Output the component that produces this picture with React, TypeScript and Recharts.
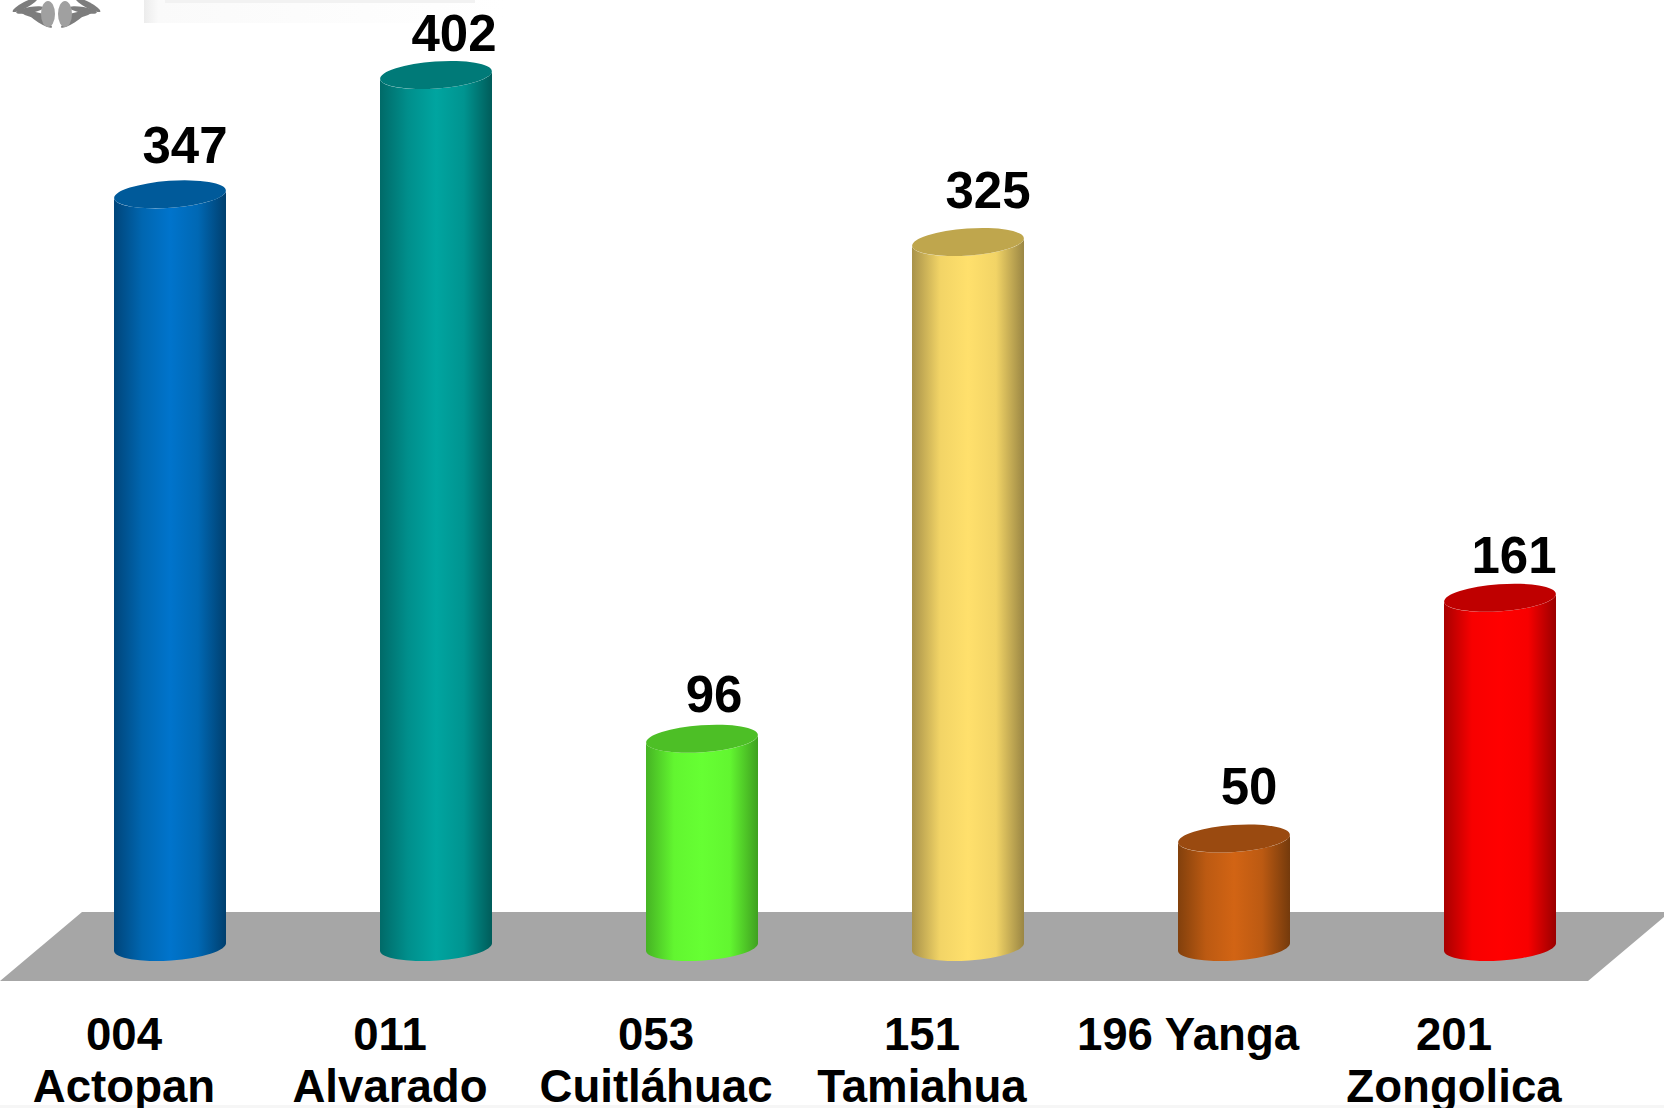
import React from "react";
import { BarChart, Bar, XAxis, YAxis, LabelList, Customized } from "recharts";

const municipios = ["004|Actopan", "011|Alvarado", "053|Cuitláhuac", "151|Tamiahua", "196 Yanga", "201|Zongolica"];
const casos = [347, 402, 96, 325, 50, 161];

const sideColors = [
  ["#00457a", "#0066b0", "#0074cc", "#0068b4", "#003f6e"],
  ["#006a68", "#008f8c", "#00a5a0", "#009490", "#005c5a"],
  ["#46b324", "#62f630", "#66ff33", "#62f630", "#3fa020"],
  ["#a8924a", "#f2d466", "#ffe06c", "#f2d466", "#9a8644"],
  ["#82400c", "#bc5a12", "#d26414", "#bc5a12", "#743a0c"],
  ["#a80000", "#f80000", "#ff0000", "#f80000", "#9a0000"],
];
const capColors = ["#005a9a", "#007a78", "#4dbf26", "#bfa64d", "#9a4a10", "#bf0000"];
const labelNudgeX = [1, 4, -2, 6, 1, 0];
const labelNudgeY = [0, 7, 4, -3, -4, 6];

const FONT = "'Liberation Sans', Arial, sans-serif";
const BAR_SHIFT = 46;
const RX = 56;
const RY = 13.5;
const TILT = 4;

const leafTilts = [-28, -10, 12, 32];

const Backdrop = () => (
  <g>
    <defs>
      <linearGradient id="topBand" x1="0" y1="0" x2="1" y2="0">
        <stop offset="0%" stopColor="#ececec" />
        <stop offset="4%" stopColor="#fafafa" />
        <stop offset="100%" stopColor="#ffffff" />
      </linearGradient>
    </defs>
    <rect x={144} y={0} width={360} height={23} fill="url(#topBand)" />
    <rect x={165} y={0} width={310} height={3} fill="#f2f2f2" />
    <g fill="#7d7d7d">
      {leafTilts.map((a, i) => (
        <g key={a}>
          <ellipse cx={25 + i * 5} cy={5 + i * 5} rx={14} ry={3} transform={`rotate(${a} ${25 + i * 5} ${5 + i * 5})`} />
          <ellipse cx={88 - i * 5} cy={5 + i * 5} rx={14} ry={3} transform={`rotate(${-a} ${88 - i * 5} ${5 + i * 5})`} />
        </g>
      ))}
      <ellipse cx={48} cy={14} rx={7} ry={13} fill="#a0a0a0" />
      <ellipse cx={65} cy={14} rx={7} ry={13} fill="#a0a0a0" />
    </g>
    <polygon points="82,912 1670,912 1588,981 0,981" fill="#a6a6a6" />
    <rect x={0} y={1105} width={1664} height={3} fill="#f6f6f6" />
  </g>
);

const Cylinder = (props: any) => {
  const { x, y, width, height, index } = props;
  const cx = x + width / 2 + BAR_SHIFT;
  const base = y + height;
  const d = `M${cx - RX},${y + TILT} L${cx - RX},${base + TILT} A${RX} ${RY} ${-TILT} 0 0 ${cx + RX},${base - TILT} L${cx + RX},${y - TILT} A${RX} ${RY} ${-TILT} 0 1 ${cx - RX},${y + TILT} Z`;
  return (
    <g>
      <path d={d} fill={`url(#cyl${index})`} />
      <ellipse cx={cx} cy={y} rx={RX} ry={RY} fill={capColors[index]} transform={`rotate(${-TILT} ${cx} ${y})`} />
    </g>
  );
};

const BarValue = (props: any) => {
  const { x, y, width, value, index } = props;
  return (
    <text
      x={x + width / 2 + BAR_SHIFT + 14 + labelNudgeX[index]}
      y={y - 31 + labelNudgeY[index]}
      textAnchor="middle"
      fontFamily={FONT}
      fontWeight="bold"
      fontSize={51}
      fill="#000"
    >
      {value}
    </text>
  );
};

const CategoryTick = (props: any) => {
  const { x, payload } = props;
  const lines = String(payload.value).split("|");
  return (
    <text textAnchor="middle" fontFamily={FONT} fontWeight="bold" fontSize={45.6} fill="#000">
      {lines.map((line: string, i: number) => (
        <tspan key={i} x={x} y={1050 + i * 52}>
          {line}
        </tspan>
      ))}
    </text>
  );
};

const data = municipios.map((name, i) => ({ name, casos: casos[i] }));

export default function App() {
  return (
    <div style={{ position: "absolute", left: 0, top: 0, width: 1664, height: 1108, overflow: "hidden", background: "#fff" }}>
      <BarChart
        width={1664}
        height={1108}
        data={data}
        margin={{ top: 36, right: 77, bottom: 0, left: -9 }}
        barCategoryGap={77}
      >
        <defs>
          {sideColors.map((stops, i) => (
            <linearGradient key={i} id={`cyl${i}`} x1="0" y1="0" x2="1" y2="0">
              <stop offset="0%" stopColor={stops[0]} />
              <stop offset="25%" stopColor={stops[1]} />
              <stop offset="50%" stopColor={stops[2]} />
              <stop offset="75%" stopColor={stops[3]} />
              <stop offset="100%" stopColor={stops[4]} />
            </linearGradient>
          ))}
        </defs>
        <Customized component={Backdrop} />
        <XAxis dataKey="name" axisLine={false} tickLine={false} interval={0} tick={<CategoryTick />} height={161} />
        <YAxis hide domain={[0, 420]} />
        <Bar dataKey="casos" isAnimationActive={false} shape={<Cylinder />}>
          <LabelList dataKey="casos" content={<BarValue />} />
        </Bar>
      </BarChart>
    </div>
  );
}
